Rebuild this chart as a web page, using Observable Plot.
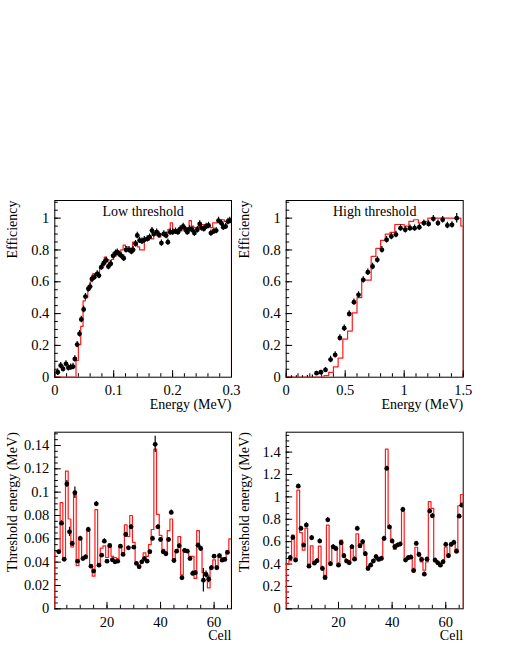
<!DOCTYPE html>
<html><head><meta charset="utf-8">
<script src="https://cdn.jsdelivr.net/npm/d3@7"></script>
<script src="https://cdn.jsdelivr.net/npm/@observablehq/plot@0.6"></script>
<style>
body{margin:0;background:#fff;}
#wrap{position:relative;width:512px;height:663px;background:#fff;overflow:hidden;}
#wrap svg{position:absolute;}
#wrap svg text{font-family:"Liberation Serif","Times New Roman",serif !important;}
</style></head><body><div id="wrap"></div>
<script>
// ---------- Panel 1: Low threshold, efficiency vs energy ----------
const lowE = [0.005,0.010,0.014,0.019,0.023,0.027,0.031,0.034,0.038,0.042,0.045,0.049,0.052,0.057,0.060,0.063,0.067,0.072,0.075,0.079,0.083,0.087,0.091,0.095,0.099,0.103,0.106,0.110,0.113,0.117,0.121,0.126,0.130,0.133,0.137,0.140,0.144,0.148,0.152,0.157,0.161,0.165,0.168,0.173,0.177,0.181,0.185,0.189,0.192,0.196,0.200,0.205,0.209,0.213,0.218,0.222,0.225,0.229,0.233,0.237,0.242,0.246,0.249,0.253,0.257,0.261,0.265,0.270,0.274,0.278,0.283,0.286,0.290,0.294,0.297];
const lowEff = [0.031,0.073,0.052,0.084,0.059,0.063,0.067,0.115,0.205,0.273,0.363,0.426,0.507,0.556,0.570,0.618,0.629,0.650,0.639,0.692,0.717,0.734,0.696,0.713,0.763,0.780,0.786,0.772,0.763,0.748,0.801,0.801,0.790,0.801,0.839,0.891,0.860,0.855,0.864,0.870,0.881,0.922,0.901,0.912,0.895,0.843,0.901,0.891,0.849,0.912,0.912,0.918,0.912,0.933,0.948,0.927,0.912,0.933,0.927,0.906,0.927,0.964,0.939,0.933,0.948,0.954,0.906,0.918,0.922,0.985,0.968,0.943,0.948,0.979,0.985];
const lowEffErr = 0.02;
const lowBinWidth = 0.004;
const lowHist = [0,0,0,0,0,0,0,0,0,0.105,0.205,0.32,0.48,0.50,0.55,0.60,0.65,0.64,0.66,0.69,0.70,0.755,0.74,0.72,0.74,0.76,0.78,0.79,0.80,0.83,0.82,0.81,0.81,0.85,0.85,0.82,0.80,0.80,0.87,0.86,0.88,0.87,0.90,0.89,0.88,0.90,0.91,0.91,0.93,0.97,0.93,0.92,0.93,0.92,0.94,0.94,0.94,0.985,0.95,0.94,0.94,0.95,0.96,0.96,0.96,0.95,0.94,0.97,0.97,0.98,0.99,0.99,0.98,0.98,0.98];

// ---------- Panel 2: High threshold, efficiency vs energy ----------
const highE = [0.045,0.087,0.138,0.180,0.222,0.257,0.294,0.333,0.376,0.415,0.455,0.492,0.534,0.574,0.613,0.653,0.692,0.732,0.772,0.811,0.851,0.891,0.930,0.969,1.009,1.049,1.088,1.128,1.167,1.207,1.247,1.286,1.326,1.366,1.405,1.445];
const highEff = [0.003,0.003,0.003,0.004,0.006,0.025,0.031,0.046,0.111,0.140,0.247,0.308,0.398,0.472,0.518,0.612,0.660,0.696,0.738,0.801,0.864,0.885,0.897,0.937,0.927,0.937,0.937,0.943,0.969,0.964,0.996,0.969,0.990,0.954,0.958,1.000];
const highEffErr = [0.006,0.006,0.006,0.006,0.008,0.012,0.012,0.015,0.02,0.02,0.02,0.02,0.02,0.02,0.02,0.02,0.02,0.02,0.02,0.02,0.02,0.02,0.02,0.02,0.02,0.02,0.02,0.02,0.02,0.02,0.02,0.02,0.02,0.02,0.02,0.03];
const highBinWidth = 0.04;
const highHist = [0,0,0,0,0,0,0,0,0.01,0.03,0.065,0.12,0.24,0.29,0.405,0.50,0.61,0.61,0.76,0.81,0.86,0.90,0.91,0.96,0.96,0.95,0.98,0.99,0.97,0.98,1.0,1.0,1.0,1.0,1.0,1.0,1.0,0.95];

// ---------- Panel 3: Low threshold energy per cell ----------
const cellsPts = [2,3,4,5,6,7,8,9,10,11,12,13,14,15,16,17,18,19,20,21,22,23,24,25,26,27,28,29,30,31,32,33,34,35,36,37,38,39,40,41,42,43,44,45,46,47,48,49,50,51,52,53,54,55,56,57,58,59,60,61,62,63,64,65,66];
const cellsHist = [1,2,3,4,5,6,7,8,9,10,11,12,13,14,15,16,17,18,19,20,21,22,23,24,25,26,27,28,29,30,31,32,33,34,35,36,37,38,39,40,41,42,43,44,45,46,47,48,49,50,51,52,53,54,55,56,57,58,59,60,61,62,63,64,65,66];
const lowThr = [0.0489,0.0734,0.0425,0.107,0.066,0.056,0.0995,0.0408,0.0603,0.0431,0.0446,0.068,0.0365,0.0323,0.090,0.0374,0.046,0.058,0.0408,0.054,0.042,0.0403,0.0408,0.0537,0.0466,0.0637,0.0523,0.0703,0.0528,0.0389,0.036,0.0403,0.0431,0.0408,0.0489,0.0603,0.141,0.0703,0.0594,0.0489,0.0472,0.0594,0.0826,0.0414,0.0494,0.054,0.0266,0.050,0.0494,0.0431,0.0303,0.0309,0.0545,0.0517,0.0245,0.0294,0.0254,0.0352,0.0451,0.0352,0.0455,0.0417,0.0423,0.0483];
const lowThrErr = [0.0015,0.002,0.0015,0.003,0.004,0.002,0.005,0.0015,0.002,0.0015,0.0015,0.002,0.0015,0.0015,0.002,0.0015,0.0015,0.002,0.0015,0.0015,0.0015,0.0015,0.0015,0.0015,0.0015,0.002,0.0015,0.002,0.0015,0.0015,0.0015,0.0015,0.0015,0.0015,0.0015,0.002,0.007,0.002,0.0015,0.0015,0.0015,0.0015,0.002,0.0015,0.0015,0.002,0.0015,0.0015,0.0015,0.0015,0.002,0.002,0.002,0.002,0.010,0.003,0.003,0.002,0.0015,0.0015,0.0015,0.0015,0.0015,0.0015];
const lowThrHist = [0.049,0.049,0.091,0.042,0.118,0.077,0.053,0.100,0.037,0.061,0.043,0.043,0.068,0.0365,0.028,0.085,0.037,0.052,0.054,0.044,0.056,0.045,0.044,0.043,0.053,0.048,0.072,0.062,0.080,0.057,0.039,0.037,0.041,0.048,0.045,0.055,0.068,0.137,0.081,0.063,0.051,0.048,0.067,0.077,0.041,0.049,0.062,0.029,0.051,0.049,0.045,0.045,0.026,0.067,0.052,0.031,0.030,0.018,0.035,0.042,0.036,0.045,0.044,0.044,0.050,0.060];

// ---------- Panel 4: High threshold energy per cell ----------
const highThr = [0.456,0.637,0.435,1.096,0.718,0.569,0.748,0.381,0.635,0.408,0.429,0.605,0.360,0.280,0.795,0.402,0.554,0.539,0.390,0.590,0.474,0.426,0.411,0.554,0.443,0.718,0.563,0.599,0.492,0.360,0.390,0.426,0.465,0.441,0.450,0.628,1.254,0.730,0.605,0.554,0.569,0.578,0.888,0.435,0.456,0.461,0.342,0.584,0.485,0.441,0.309,0.443,0.873,0.831,0.435,0.411,0.390,0.420,0.575,0.474,0.575,0.593,0.515,0.828,0.926];
const highThrErr = 0.02;
const highThrHist = [0.40,0.43,0.658,0.43,1.06,0.68,0.524,0.72,0.37,0.563,0.42,0.43,0.56,0.36,0.265,0.748,0.40,0.56,0.54,0.39,0.613,0.48,0.43,0.41,0.55,0.435,0.67,0.55,0.58,0.49,0.36,0.40,0.43,0.44,0.44,0.44,0.63,1.427,0.74,0.60,0.53,0.56,0.57,0.87,0.43,0.46,0.46,0.33,0.55,0.48,0.42,0.345,0.42,0.957,0.897,0.42,0.41,0.38,0.42,0.55,0.47,0.57,0.59,0.50,0.921,1.02];

// ---------- Axis ticks and labels ----------
const effTicks = [0,0.2,0.4,0.6,0.8,1];
const effLabels = ["0","0.2","0.4","0.6","0.8","1"];
const lowETicks = [0,0.1,0.2,0.3];
const lowELabels = ["0","0.1","0.2","0.3"];
const highETicks = [0,0.5,1,1.5];
const highELabels = ["0","0.5","1","1.5"];
const cellTicks = [20,40,60];
const cellLabels = ["20","40","60"];
const lowThrTicks = [0,0.02,0.04,0.06,0.08,0.1,0.12,0.14];
const lowThrLabels = ["0","0.02","0.04","0.06","0.08","0.1","0.12","0.14"];
const highThrTicks = [0,0.2,0.4,0.6,0.8,1,1.2,1.4];
const highThrLabels = ["0","0.2","0.4","0.6","0.8","1","1.2","1.4"];

const FONT = "Liberation Serif";
const wrap = document.getElementById("wrap");

function stepOutline(lo, hi, vals) {
  const v = [{x: lo[0], y: 0}];
  vals.forEach((val, i) => { v.push({x: lo[i], y: val}); v.push({x: hi[i], y: val}); });
  v.push({x: hi[hi.length - 1], y: 0});
  return v;
}

function panel(cfg) {
  const pts = cfg.px.map((x, i) => ({x, y: cfg.py[i], e: Array.isArray(cfg.pe) ? cfg.pe[i] : cfg.pe}));
  const outline = stepOutline(cfg.lo, cfg.hi, cfg.hv);
  const xl = new Map(cfg.xTicks.map((t, i) => [t, cfg.xLabels[i]]));
  const yl = new Map(cfg.yTicks.map((t, i) => [t, cfg.yLabels[i]]));
  const svg = Plot.plot({
    width: cfg.w, height: cfg.h,
    marginLeft: cfg.ml, marginRight: cfg.mr, marginTop: cfg.mt, marginBottom: cfg.mb,
    style: {fontFamily: FONT, fontSize: "14px", background: "transparent", color: "black", overflow: "visible"},
    x: {domain: cfg.xDomain, label: null},
    y: {domain: cfg.yDomain, label: null},
    marks: [
      Plot.frame({stroke: "black", strokeWidth: 1}),
      Plot.axisX(cfg.xMinor, {anchor: "bottom", tickSize: 3.5, dy: -3.5, tickFormat: () => "", label: null}),
      Plot.axisX(cfg.xTicks, {anchor: "bottom", tickSize: 6.5, dy: -6.5, tickFormat: () => "", label: null}),
      Plot.axisX(cfg.xTicks, {anchor: "bottom", tickSize: 0, tickPadding: 8, tickFormat: d => xl.get(d), fontSize: 14.5, fontFamily: FONT, label: null}),
      Plot.axisY(cfg.yMinor, {anchor: "left", tickSize: 3.5, dx: 3.5, tickFormat: () => "", label: null}),
      Plot.axisY(cfg.yTicks, {anchor: "left", tickSize: 6.5, dx: 6.5, tickFormat: () => "", label: null}),
      Plot.axisY(cfg.yTicks, {anchor: "left", tickSize: 0, tickPadding: 5.5, tickFormat: d => yl.get(d), fontSize: 14.5, fontFamily: FONT, label: null}),
      Plot.line(outline, {x: "x", y: "y", stroke: "#ff1a1a", strokeWidth: 1.2, clip: true}),
      Plot.ruleX(pts, {x: "x", y1: d => d.y - d.e, y2: d => d.y + d.e, stroke: "black", strokeWidth: 1.2, clip: true}),
      Plot.dot(pts.filter(d => d.y >= cfg.minDot), {x: "x", y: "y", r: 2.4, fill: "black", stroke: "none", clip: true}),
      cfg.title ? Plot.text([cfg.title], {text: d => d, frameAnchor: "top", dy: 11, lineAnchor: "middle", fontSize: 14, fontFamily: FONT}) : null,
      Plot.text([cfg.xTitle], {text: d => d, frameAnchor: "bottom-right", dy: 27, textAnchor: "end", lineAnchor: "middle", fontSize: 14, fontFamily: FONT}),
      Plot.text([cfg.yTitle], {text: d => d, frameAnchor: "top-left", rotate: -90, textAnchor: "end", lineAnchor: "middle", dx: -41.8, fontSize: 14, fontFamily: FONT})
    ]
  });
  svg.style.left = cfg.left + "px";
  svg.style.top = cfg.top + "px";
  wrap.appendChild(svg);
}

const lowLo = lowHist.map((_, i) => i * lowBinWidth);
const lowHi = lowHist.map((_, i) => (i + 1) * lowBinWidth);
const highLo = highHist.map((_, i) => i * highBinWidth);
const highHi = highHist.map((_, i) => Math.min((i + 1) * highBinWidth, 1.5));
const cellLo = cellsHist.map(c => c - 0.5);
const cellHi = cellsHist.map(c => c + 0.5);
const effMinor = d3.range(0, 1.11, 0.05);
const topRow = {w: 256, h: 235, mt: 10, mb: 48.3};
const botRow = {w: 256, h: 238, mt: 6.7, mb: 54.7};

panel({...topRow, left: 0, top: 190, ml: 54.3, mr: 25,
  xDomain: [0, 0.3], yDomain: [0, 1.111],
  px: lowE, py: lowEff, pe: lowEffErr, minDot: 0,
  lo: lowLo, hi: lowHi, hv: lowHist,
  xTicks: lowETicks, xLabels: lowELabels, xMinor: d3.range(0, 0.301, 0.02),
  yTicks: effTicks, yLabels: effLabels, yMinor: effMinor,
  title: "Low threshold", xTitle: "Energy (MeV)", yTitle: "Efficiency"});

panel({...topRow, left: 231, top: 190, ml: 54.7, mr: 24.3,
  xDomain: [0, 1.5], yDomain: [0, 1.111],
  px: highE, py: highEff, pe: highEffErr, minDot: 0.015,
  lo: highLo, hi: highHi, hv: highHist,
  xTicks: highETicks, xLabels: highELabels, xMinor: d3.range(0, 1.501, 0.1),
  yTicks: effTicks, yLabels: effLabels, yMinor: effMinor,
  title: "High threshold", xTitle: "Energy (MeV)", yTitle: "Efficiency"});

panel({...botRow, left: 0, top: 425, ml: 54.3, mr: 25,
  xDomain: [0.5, 66.5], yDomain: [0, 0.1514],
  px: cellsPts.slice(0, lowThr.length), py: lowThr, pe: lowThrErr, minDot: 0,
  lo: cellLo, hi: cellHi, hv: lowThrHist,
  xTicks: cellTicks, xLabels: cellLabels, xMinor: d3.range(5, 66, 5),
  yTicks: lowThrTicks, yLabels: lowThrLabels, yMinor: d3.range(0, 0.151, 0.005),
  title: null, xTitle: "Cell", yTitle: "Threshold energy (MeV)"});

panel({...botRow, left: 231, top: 425, ml: 54.7, mr: 24.3,
  xDomain: [0.5, 66.5], yDomain: [0, 1.578],
  px: cellsPts, py: highThr, pe: highThrErr, minDot: 0,
  lo: cellLo, hi: cellHi, hv: highThrHist,
  xTicks: cellTicks, xLabels: cellLabels, xMinor: d3.range(5, 66, 5),
  yTicks: highThrTicks, yLabels: highThrLabels, yMinor: d3.range(0, 1.571, 0.05),
  title: null, xTitle: "Cell", yTitle: "Threshold energy (MeV)"});
</script></body></html>
